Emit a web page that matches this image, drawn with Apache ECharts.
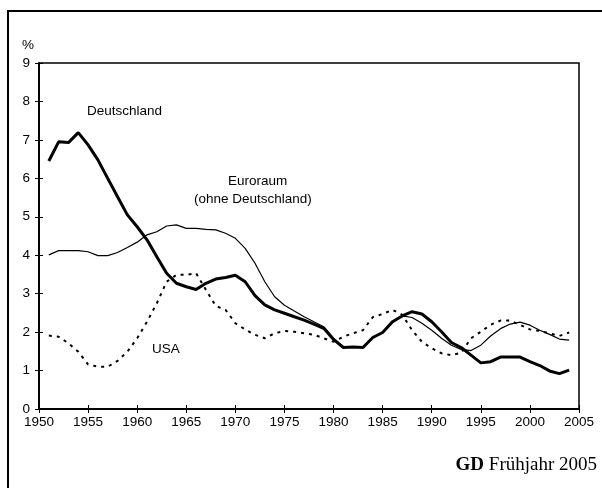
<!DOCTYPE html>
<html>
<head>
<meta charset="utf-8">
<script src="https://cdn.jsdelivr.net/npm/echarts@6/dist/echarts.min.js"></script>
<style>
html, body { margin: 0; padding: 0; background: #fff; }
#chart { width: 602px; height: 488px; }
</style>
</head>
<body>
<div id="chart"></div>
<script>
// Jahre 1951 - 2004
var years = []
for (var y = 1951; y <= 2004; y++) years.push(y)

var deutschland = [6.45, 6.95, 6.93, 7.19, 6.87, 6.48, 6.0, 5.52, 5.05, 4.74,
  4.4, 3.96, 3.53, 3.27, 3.18, 3.11, 3.27, 3.38, 3.42, 3.48,
  3.31, 2.95, 2.71, 2.58, 2.49, 2.4, 2.31, 2.21, 2.1, 1.81,
  1.6, 1.61, 1.6, 1.86, 1.99, 2.27, 2.42, 2.53, 2.47, 2.27,
  2.01, 1.73, 1.6, 1.4, 1.2, 1.23, 1.35, 1.35, 1.35, 1.23,
  1.13, 0.99, 0.92, 1.01]

var euroraum = [4.01, 4.12, 4.12, 4.12, 4.09, 3.99, 3.99, 4.07, 4.2, 4.34,
  4.53, 4.61, 4.76, 4.79, 4.7, 4.7, 4.67, 4.66, 4.57, 4.44,
  4.18, 3.79, 3.31, 2.92, 2.7, 2.55, 2.4, 2.27, 2.14, 1.84,
  1.6, 1.62, 1.62, 1.86, 1.99, 2.25, 2.42, 2.38, 2.23, 2.05,
  1.84, 1.66, 1.55, 1.52, 1.66, 1.9, 2.09, 2.21, 2.26, 2.18,
  2.05, 1.94, 1.82, 1.79]

var usa = [1.91, 1.88, 1.71, 1.49, 1.16, 1.1, 1.1, 1.25, 1.49, 1.84,
  2.27, 2.75, 3.31, 3.49, 3.49, 3.53, 3.1, 2.68, 2.58, 2.23,
  2.07, 1.93, 1.84, 1.97, 2.03, 2.01, 1.97, 1.93, 1.84, 1.75,
  1.88, 1.97, 2.05, 2.39, 2.47, 2.58, 2.45, 2.05, 1.75, 1.58,
  1.45, 1.4, 1.46, 1.84, 2.01, 2.19, 2.3, 2.3, 2.19, 2.07,
  2.03, 1.97, 1.9, 1.99]

function pairs(vals) {
  return years.map(function (yr, i) { return [yr, vals[i]] })
}

var chart = echarts.init(document.getElementById('chart'))
var sans = 'Liberation Sans, Arial, sans-serif'
var serif = 'Liberation Serif, Times New Roman, serif'

var xBase = {
  type: 'value', min: 1950, max: 2005, interval: 5, position: 'bottom',
  axisLine: { show: true, lineStyle: { color: '#000', width: 1.5 } },
  splitLine: { show: false }
}
var yBase = {
  type: 'value', min: 0, max: 9, interval: 1, position: 'left',
  axisLine: { show: true, lineStyle: { color: '#000', width: 1.5 } },
  splitLine: { show: false }
}

var option = {
  animation: false,
  backgroundColor: '#fff',
  grid: {
    left: 39, top: 63, right: 23, bottom: 79,
    show: true, borderColor: '#000', borderWidth: 1.5, backgroundColor: 'transparent'
  },
  xAxis: [
    Object.assign({}, xBase, {
      axisTick: { show: true, length: 4, lineStyle: { color: '#000', width: 1 } },
      axisLabel: {
        color: '#000', fontFamily: sans, fontSize: 13.5, margin: 6,
        formatter: function (v) { return String(v) }
      }
    }),
    Object.assign({}, xBase, {
      axisTick: { show: true, inside: true, length: 4, lineStyle: { color: '#000', width: 1 } },
      axisLabel: { show: false }
    })
  ],
  yAxis: [
    Object.assign({}, yBase, {
      axisTick: { show: true, length: 4, lineStyle: { color: '#000', width: 1 } },
      axisLabel: { color: '#000', fontFamily: sans, fontSize: 13.5, margin: 9 }
    }),
    Object.assign({}, yBase, {
      axisTick: { show: true, inside: true, length: 4, lineStyle: { color: '#000', width: 1 } },
      axisLabel: { show: false }
    })
  ],
  series: [
    {
      name: 'Euroraum', type: 'line', showSymbol: false, symbol: 'none',
      data: pairs(euroraum),
      lineStyle: { color: '#000', width: 1.2 }
    },
    {
      name: 'USA', type: 'line', showSymbol: false, symbol: 'none',
      data: pairs(usa),
      lineStyle: { color: '#000', width: 2, type: [3, 5] }
    },
    {
      name: 'Deutschland', type: 'line', showSymbol: false, symbol: 'none',
      data: pairs(deutschland),
      lineStyle: { color: '#000', width: 3 }
    }
  ],
  graphic: [
    { type: 'rect', shape: { x: 8, y: 11, width: 620, height: 500 },
      style: { fill: 'none', stroke: '#000', lineWidth: 2 }, silent: true },
    { type: 'text', left: 22, top: 38,
      style: { text: '%', fill: '#000', font: '13.5px ' + sans } },
    { type: 'text', left: 87, top: 104,
      style: { text: 'Deutschland', fill: '#000', font: '13.5px ' + sans } },
    { type: 'text', left: 228, top: 174,
      style: { text: 'Euroraum', fill: '#000', font: '13.5px ' + sans } },
    { type: 'text', left: 194, top: 192,
      style: { text: '(ohne Deutschland)', fill: '#000', font: '13.5px ' + sans } },
    { type: 'text', left: 152, top: 342,
      style: { text: 'USA', fill: '#000', font: '13.5px ' + sans } },
    { type: 'text', right: 5, top: 456,
      style: {
        text: '{b|GD} Frühjahr 2005', fill: '#000', font: '19px ' + serif,
        rich: { b: { fontWeight: 'bold', fontSize: 19, fontFamily: serif } }
      } }
  ]
}
chart.setOption(option)
</script>
</body>
</html>
